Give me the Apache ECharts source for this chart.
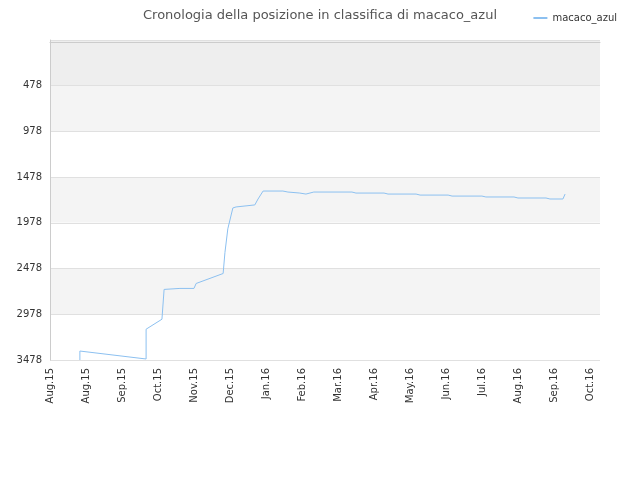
<!DOCTYPE html><html><head><meta charset="utf-8"><script src="https://cdn.jsdelivr.net/npm/echarts@6/dist/echarts.min.js"></script></head><body style="margin:0"><div id="c" style="width:640px;height:480px"></div><script>
const xLabels=['Aug.15','Aug.15','Sep.15','Oct.15','Nov.15','Dec.15','Jan.16','Feb.16','Mar.16','Apr.16','May.16','Jun.16','Jul.16','Aug.16','Sep.16','Oct.16'];
const months=[0.83,0.83,2.67,2.67,3.11,3.17,3.61,4.0,4.06,4.81,4.86,4.94,5.08,5.17,5.69,5.78,5.92,6.47,6.61,6.94,7.11,7.33,8.39,8.5,9.28,9.39,10.17,10.28,11.06,11.17,12.0,12.11,12.89,13.0,13.78,13.89,14.25,14.31];
const ranks=[3478,3380,3467,3141,3032,2706,2695,2695,2641,2532,2304,2043,1815,1804,1782,1717,1630,1630,1641,1652,1663,1641,1641,1652,1652,1663,1663,1674,1674,1685,1685,1695,1695,1706,1706,1717,1717,1663];
const data=months.map((m,i)=>[m,ranks[i]]);
const c=echarts.init(document.getElementById('c'));
c.setOption({
title:{text:'Cronologia della posizione in classifica di macaco_azul',left:'center',top:4,textStyle:{fontSize:13,fontWeight:'normal',color:'#555',fontFamily:'DejaVu Sans'}},
legend:{right:18,top:8,itemWidth:14,itemHeight:2,textStyle:{fontSize:10,color:'#333',fontFamily:'DejaVu Sans'},data:[{name:'macaco_azul',icon:'rect'}]},
grid:{left:50,right:40,top:40,bottom:120},
xAxis:{type:'value',min:0,max:15.28,interval:1,axisLine:{lineStyle:{color:'#ccc'}},axisTick:{show:false},splitLine:{show:false},
axisLabel:{rotate:90,color:'#333',fontSize:10,fontFamily:'DejaVu Sans',showMaxLabel:false,formatter:v=>{const r=Math.round(v);return Math.abs(v-r)<0.01?(xLabels[r]||''):'';}}},
yAxis:{type:'value',inverse:true,min:-22,max:3478,interval:500,axisLine:{show:true,lineStyle:{color:'#ccc'}},axisTick:{show:false},
axisLabel:{color:'#333',fontSize:10,fontFamily:'DejaVu Sans',formatter:v=>v<0?'':String(v)},
splitLine:{lineStyle:{color:'#e0e0e0'}},
splitArea:{show:true,areaStyle:{color:['#eeeeee','#f4f4f4','#ffffff','#f4f4f4','#ffffff','#f4f4f4','#ffffff']}}},
series:[{name:'macaco_azul',type:'line',data:data,showSymbol:false,lineStyle:{width:1,color:'#8cc0f0'},itemStyle:{color:'#8cc0f0'}}]
});
</script></body></html>
